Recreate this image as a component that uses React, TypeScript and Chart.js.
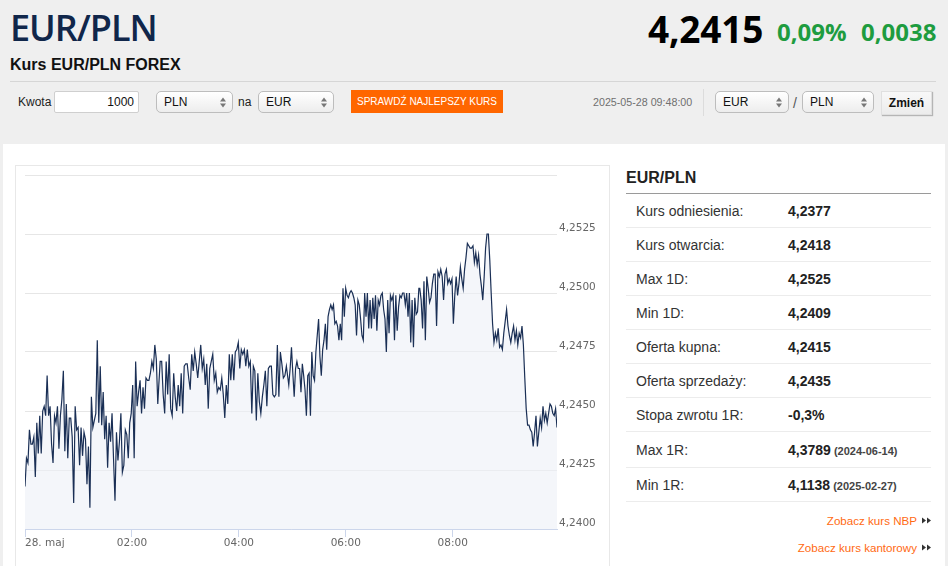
import React, { useEffect, useRef } from "react";
import { Chart, registerables } from "chart.js";

Chart.register(...registerables);

// ---- DATA ----
// EUR/PLN intraday rates, in four consecutive time segments
// (minutes after midnight, 28 May 2025); samples are evenly spaced inside each segment.
const segmentTimes: [number, number][] = [
  [0, 149],
  [150, 295],
  [296, 442],
  [443, 597],
];

const rates00to02 = [
  4.2418, 4.2430, 4.2428, 4.2442, 4.2436, 4.2436, 4.2439, 4.2422, 4.2445, 4.2432,
  4.2448, 4.2432, 4.2450, 4.2452, 4.2448, 4.2465, 4.2448, 4.2452, 4.2436, 4.2428,
  4.2448, 4.2445, 4.2452, 4.2434, 4.2448, 4.2455, 4.2467, 4.2433, 4.2453, 4.2430,
  4.2447, 4.2447, 4.2439, 4.2411, 4.2452, 4.2442, 4.2443, 4.2427, 4.2443, 4.2431,
  4.2441, 4.2438, 4.2419, 4.2435, 4.2409, 4.2456, 4.2443, 4.2446, 4.2449, 4.2480,
  4.2445, 4.2469, 4.2444, 4.2458, 4.2438, 4.2448, 4.2426, 4.2445, 4.2437, 4.2449,
  4.2430, 4.2412, 4.2441, 4.2429, 4.2437, 4.2449, 4.2424, 4.2427, 4.2442, 4.2440,
  4.2430, 4.2445, 4.2449, 4.2461, 4.2430, 4.2471, 4.2452, 4.2458, 4.2463, 4.2449,
  4.2460, 4.2451, 4.2464, 4.2463, 4.2463, 4.2466, 4.2471, 4.2468, 4.2478, 4.2472,
  4.2453,
];

const rates02to05 = [
  4.2460, 4.2471, 4.2471, 4.2457, 4.2449, 4.2471, 4.2457, 4.2474, 4.2451, 4.2448,
  4.2466, 4.2456, 4.2450, 4.2461, 4.2452, 4.2466, 4.2449, 4.2469, 4.2470, 4.2470,
  4.2464, 4.2459, 4.2474, 4.2467, 4.2475, 4.2470, 4.2464, 4.2471, 4.2478, 4.2468,
  4.2472, 4.2461, 4.2470, 4.2451, 4.2468, 4.2471, 4.2474, 4.2463, 4.2466, 4.2458,
  4.2460, 4.2459, 4.2464, 4.2457, 4.2447, 4.2461, 4.2453, 4.2474, 4.2463, 4.2474,
  4.2463, 4.2475, 4.2476, 4.2479, 4.2468, 4.2476, 4.2474, 4.2476, 4.2469, 4.2476,
  4.2469, 4.2471, 4.2449, 4.2469, 4.2467, 4.2446, 4.2466, 4.2454, 4.2449, 4.2456,
  4.2461, 4.2467, 4.2452, 4.2468, 4.2469, 4.2469, 4.2457, 4.2456, 4.2457, 4.2478,
  4.2456, 4.2475, 4.2470, 4.2464, 4.2465, 4.2469, 4.2464,
];

const rates05to07 = [
  4.2461, 4.2468, 4.2477, 4.2466, 4.2456, 4.2468, 4.2471, 4.2468, 4.2468, 4.2458,
  4.2470, 4.2465, 4.2459, 4.2448, 4.2465, 4.2466, 4.2448, 4.2475, 4.2465, 4.2463,
  4.2475, 4.2482, 4.2489, 4.2473, 4.2465, 4.2476, 4.2480, 4.2487, 4.2476, 4.2490,
  4.2493, 4.2495, 4.2493, 4.2495, 4.2487, 4.2488, 4.2486, 4.2480, 4.2487, 4.2480,
  4.2502, 4.2490, 4.2502, 4.2499, 4.2498, 4.2500, 4.2501, 4.2500, 4.2498, 4.2495,
  4.2482, 4.2497, 4.2495, 4.2489, 4.2482, 4.2480, 4.2500, 4.2490, 4.2500, 4.2485,
  4.2497, 4.2485, 4.2498, 4.2489, 4.2499, 4.2484, 4.2497, 4.2495, 4.2499, 4.2500,
  4.2493, 4.2489, 4.2475, 4.2497, 4.2483, 4.2499, 4.2497, 4.2499, 4.2480, 4.2499,
  4.2484, 4.2494, 4.2499, 4.2498, 4.2500, 4.2500, 4.2495, 4.2500, 4.2490, 4.2500,
  4.2479, 4.2497, 4.2477, 4.2498, 4.2491, 4.2492, 4.2502,
];

const rates07to10 = [
  4.2502, 4.2497, 4.2485, 4.2505, 4.2480, 4.2507, 4.2502, 4.2496, 4.2498, 4.2504,
  4.2508, 4.2508, 4.2486, 4.2509, 4.2507, 4.2510, 4.2507, 4.2497, 4.2508, 4.2510,
  4.2504, 4.2506, 4.2504, 4.2506, 4.2487, 4.2499, 4.2507, 4.2499, 4.2504, 4.2511,
  4.2506, 4.2502, 4.2510, 4.2515, 4.2521, 4.2520, 4.2519, 4.2519, 4.2520, 4.2513,
  4.2517, 4.2512, 4.2516, 4.2508, 4.2503, 4.2497, 4.2507, 4.2519, 4.2525, 4.2525,
  4.2514, 4.2500, 4.2487, 4.2479, 4.2483, 4.2480, 4.2485, 4.2477, 4.2478, 4.2476,
  4.2483, 4.2488, 4.2493, 4.2486, 4.2482, 4.2479, 4.2483, 4.2486, 4.2480, 4.2484,
  4.2478, 4.2483, 4.2481, 4.2486, 4.2478, 4.2464, 4.2451, 4.2444, 4.2444, 4.2442,
  4.2441, 4.2435, 4.2441, 4.2448, 4.2435, 4.2441, 4.2447, 4.2443, 4.2452, 4.2446,
  4.2449, 4.2445, 4.2449, 4.2453, 4.2452, 4.2449, 4.2448, 4.2451, 4.2443,
];

const rateSegments = [rates00to02, rates02to05, rates05to07, rates07to10];

const xTickMinutes = [0, 120, 240, 360, 480];
const xTickLabels = ["28. maj", "02:00", "04:00", "06:00", "08:00"];
const xAxisEnd = 597;
const yMin = 4.24;
const yMax = 4.255;
const yStep = 0.0025;

const statLabels = [
  "Kurs odniesienia:",
  "Kurs otwarcia:",
  "Max 1D:",
  "Min 1D:",
  "Oferta kupna:",
  "Oferta sprzedaży:",
  "Stopa zwrotu 1R:",
  "Max 1R:",
  "Min 1R:",
];
const statValues = ["4,2377", "4,2418", "4,2525", "4,2409", "4,2415", "4,2435", "-0,3%", "4,3789", "4,1138"];
const statDates = ["", "", "", "", "", "", "", "(2024-06-14)", "(2025-02-27)"];

// ---- UI ----
const SANS = "'Liberation Sans', Arial, sans-serif";
const OPEN = "'Open Sans', 'Liberation Sans', sans-serif";

function Arrows() {
  return (
    <svg width="6" height="11" viewBox="0 0 6 11" style={{ display: "block" }}>
      <polygon points="0,4.5 3,0.5 6,4.5" fill="#777" />
      <polygon points="0,6.5 3,10.5 6,6.5" fill="#777" />
    </svg>
  );
}

function FakeSelect({ left, width, text }: { left: number; width: number; text: string }) {
  return (
    <div
      style={{
        position: "absolute",
        left,
        top: 91,
        width,
        height: 22,
        boxSizing: "border-box",
        border: "1px solid #bdbdbd",
        borderRadius: 5,
        background: "linear-gradient(#ffffff, #ededed)",
        display: "flex",
        alignItems: "center",
        justifyContent: "space-between",
        padding: "0 6px 0 7px",
        fontFamily: SANS,
        fontSize: 12,
        color: "#111",
      }}
    >
      <span>{text}</span>
      <Arrows />
    </div>
  );
}

function DoubleArrow() {
  return (
    <svg width="9" height="7" viewBox="0 0 9 7" style={{ marginLeft: 5 }}>
      <polygon points="0,0.5 4,3.5 0,6.5" fill="#333" />
      <polygon points="5,0.5 9,3.5 5,6.5" fill="#333" />
    </svg>
  );
}

function RateChart() {
  const ref = useRef<HTMLCanvasElement | null>(null);
  useEffect(() => {
    if (!ref.current) return;
    const points: { x: number; y: number }[] = [];
    rateSegments.forEach((seg, s) => {
      const [t0, t1] = segmentTimes[s];
      seg.forEach((v, i) => {
        points.push({ x: t0 + ((t1 - t0) * i) / (seg.length - 1), y: v });
      });
    });
    const chart = new Chart(ref.current, {
      type: "line",
      data: {
        datasets: [
          {
            data: points,
            borderColor: "#1a2f55",
            borderWidth: 1.2,
            backgroundColor: "rgba(236,240,246,0.6)",
            fill: "start",
            pointRadius: 0,
            tension: 0,
          },
        ],
      },
      options: {
        animation: false,
        responsive: false,
        devicePixelRatio: 1,
        parsing: false,
        layout: { padding: { left: 9, top: 9, right: 0, bottom: 0 } },
        plugins: { legend: { display: false }, tooltip: { enabled: false } },
        scales: {
          x: {
            type: "linear",
            min: 0,
            max: xAxisEnd,
            afterFit: (scale: any) => {
              scale.height = 37;
            },
            afterBuildTicks: (scale: any) => {
              scale.ticks = [...xTickMinutes, xAxisEnd].map((v) => ({ value: v }));
            },
            border: { display: true, color: "#ccd6eb", width: 1 },
            grid: {
              drawOnChartArea: false,
              drawTicks: true,
              tickLength: 8,
              tickColor: (ctx: any) =>
                ctx.tick && ctx.tick.value === xAxisEnd ? "rgba(0,0,0,0)" : "#ccd6eb",
            },
            ticks: {
              autoSkip: false,
              maxRotation: 0,
              align: "inner",
              padding: 0,
              color: "#666",
              font: { family: "'DejaVu Sans', sans-serif", size: 10.5 },
              callback: (value: any) => {
                const i = xTickMinutes.indexOf(Number(value));
                return i >= 0 ? xTickLabels[i] : "";
              },
            },
          },
          y: {
            position: "right",
            min: yMin,
            max: yMax,
            afterFit: (scale: any) => {
              scale.width = 52;
            },
            border: { display: false },
            grid: { color: "#e6e6e6", lineWidth: 1, drawTicks: false },
            ticks: {
              stepSize: yStep,
              padding: 2,
              labelOffset: -6,
              color: "#666",
              font: { family: "'DejaVu Sans', sans-serif", size: 10.5 },
              callback: (value: any) => {
                const v = Number(value);
                if (v >= yMax - 1e-9) return "";
                return v.toFixed(4).replace(".", ",");
              },
            },
          },
        },
      },
    } as any);
    return () => chart.destroy();
  }, []);
  return (
    <canvas
      ref={ref}
      width={593}
      height={400}
      style={{ position: "absolute", left: 16, top: 166, width: 593, height: 400 }}
    />
  );
}

export default function App() {
  const rowHeights = [34, 34, 34, 34, 34, 34, 34, 36, 34];
  let acc = 194;
  const rowTops = rowHeights.map((h) => {
    const t = acc;
    acc += h;
    return t;
  });
  return (
    <div
      style={{
        position: "fixed",
        left: 0,
        top: 0,
        width: 948,
        height: 566,
        overflow: "hidden",
        background: "#efefef",
        fontFamily: SANS,
      }}
    >
      {/* header */}
      <div
        style={{
          position: "absolute",
          left: 10,
          top: 10,
          fontFamily: OPEN,
          fontWeight: 600,
          fontSize: 36,
          lineHeight: 1,
          letterSpacing: -1,
          color: "#10264a",
        }}
      >
        EUR/PLN
      </div>
      <div
        style={{
          position: "absolute",
          left: 10,
          top: 57,
          fontWeight: 700,
          fontSize: 16,
          lineHeight: 1,
          color: "#111",
        }}
      >
        Kurs EUR/PLN FOREX
      </div>
      <div
        style={{
          position: "absolute",
          left: 648,
          top: 10,
          fontFamily: OPEN,
          fontWeight: 700,
          fontSize: 37,
          lineHeight: 1,
          letterSpacing: -0.2,
          color: "#000",
        }}
      >
        4,2415
      </div>
      <div
        style={{
          position: "absolute",
          left: 777,
          top: 20,
          fontFamily: OPEN,
          fontWeight: 700,
          fontSize: 24,
          lineHeight: 1,
          color: "#1e9c3f",
        }}
      >
        0,09%
      </div>
      <div
        style={{
          position: "absolute",
          left: 861,
          top: 20,
          fontFamily: OPEN,
          fontWeight: 700,
          fontSize: 24,
          lineHeight: 1,
          color: "#1e9c3f",
        }}
      >
        0,0038
      </div>
      <div style={{ position: "absolute", left: 10, top: 81, width: 926, height: 1, background: "#d6d6d6" }} />

      {/* converter row */}
      <div
        style={{
          position: "absolute",
          left: 18,
          top: 91,
          height: 22,
          display: "flex",
          alignItems: "center",
          fontSize: 12,
          color: "#222",
        }}
      >
        Kwota
      </div>
      <div
        style={{
          position: "absolute",
          left: 54,
          top: 91,
          width: 85,
          height: 22,
          boxSizing: "border-box",
          border: "1px solid #cfcfcf",
          borderRadius: 2,
          background: "#fff",
          display: "flex",
          alignItems: "center",
          justifyContent: "flex-end",
          paddingRight: 4,
          fontSize: 12,
          color: "#111",
        }}
      >
        1000
      </div>
      <FakeSelect left={156} width={77} text="PLN" />
      <div
        style={{
          position: "absolute",
          left: 238,
          top: 91,
          height: 22,
          display: "flex",
          alignItems: "center",
          fontSize: 12,
          color: "#222",
        }}
      >
        na
      </div>
      <FakeSelect left={258} width={76} text="EUR" />
      <div
        style={{
          position: "absolute",
          left: 351,
          top: 90,
          width: 152,
          height: 23,
          background: "#ff6600",
          color: "#fff",
          fontSize: 10,
          display: "flex",
          alignItems: "center",
          justifyContent: "center",
        }}
      >
        SPRAWDŹ NAJLEPSZY KURS
      </div>
      <div
        style={{
          position: "absolute",
          left: 593,
          top: 91,
          height: 22,
          display: "flex",
          alignItems: "center",
          fontSize: 10.7,
          color: "#707070",
        }}
      >
        2025-05-28 09:48:00
      </div>
      <div style={{ position: "absolute", left: 703, top: 89, width: 1, height: 27, background: "#dcdcdc" }} />
      <FakeSelect left={715} width={74} text="EUR" />
      <div
        style={{
          position: "absolute",
          left: 793,
          top: 91,
          height: 24,
          display: "flex",
          alignItems: "center",
          fontSize: 14,
          color: "#555",
        }}
      >
        /
      </div>
      <FakeSelect left={802} width={72} text="PLN" />
      <div
        style={{
          position: "absolute",
          left: 881,
          top: 91,
          width: 51,
          height: 24,
          boxSizing: "border-box",
          background: "linear-gradient(#f8f8f8, #ececec)",
          border: "1px solid #e0e0e0",
          boxShadow: "1px 1px 1px #b5b5b5",
          display: "flex",
          alignItems: "center",
          justifyContent: "center",
          fontSize: 12,
          fontWeight: 700,
          color: "#111",
        }}
      >
        Zmień
      </div>

      {/* white panel */}
      <div
        style={{
          position: "absolute",
          left: 3,
          top: 144,
          width: 942,
          height: 430,
          background: "#fff",
        }}
      />
      {/* chart box */}
      <div
        style={{
          position: "absolute",
          left: 15,
          top: 165,
          width: 595,
          height: 420,
          boxSizing: "border-box",
          border: "1px solid #e8e8e8",
          background: "#fff",
        }}
      />
      <RateChart />

      {/* stats */}
      <div
        style={{
          position: "absolute",
          left: 626,
          top: 170,
          fontSize: 16,
          fontWeight: 700,
          lineHeight: 1,
          color: "#222",
        }}
      >
        EUR/PLN
      </div>
      <div style={{ position: "absolute", left: 626, top: 193, width: 305, height: 1, background: "#9a9a9a" }} />
      {statLabels.map((label, i) => (
        <div
          key={label}
          style={{
            position: "absolute",
            left: 626,
            top: rowTops[i],
            width: 305,
            height: rowHeights[i],
            lineHeight: rowHeights[i] + "px",
            borderBottom: "1px solid #ececec",
            boxSizing: "border-box",
            fontSize: 14,
            color: "#333",
            whiteSpace: "nowrap",
          }}
        >
          <span style={{ position: "absolute", left: 10 }}>{label}</span>
          <span style={{ position: "absolute", left: 162 }}>
            <b style={{ color: "#222" }}>{statValues[i]}</b>
            {statDates[i] ? (
              <span style={{ fontSize: 11, fontWeight: 700, color: "#444" }}> {statDates[i]}</span>
            ) : null}
          </span>
        </div>
      ))}
      <div
        style={{
          position: "absolute",
          right: 17,
          top: 512,
          height: 16,
          display: "flex",
          alignItems: "center",
          fontSize: 11.6,
          color: "#ff6a13",
        }}
      >
        Zobacz kurs NBP
        <DoubleArrow />
      </div>
      <div
        style={{
          position: "absolute",
          right: 17,
          top: 539,
          height: 16,
          display: "flex",
          alignItems: "center",
          fontSize: 11.6,
          color: "#ff6a13",
        }}
      >
        Zobacz kurs kantorowy
        <DoubleArrow />
      </div>
    </div>
  );
}
